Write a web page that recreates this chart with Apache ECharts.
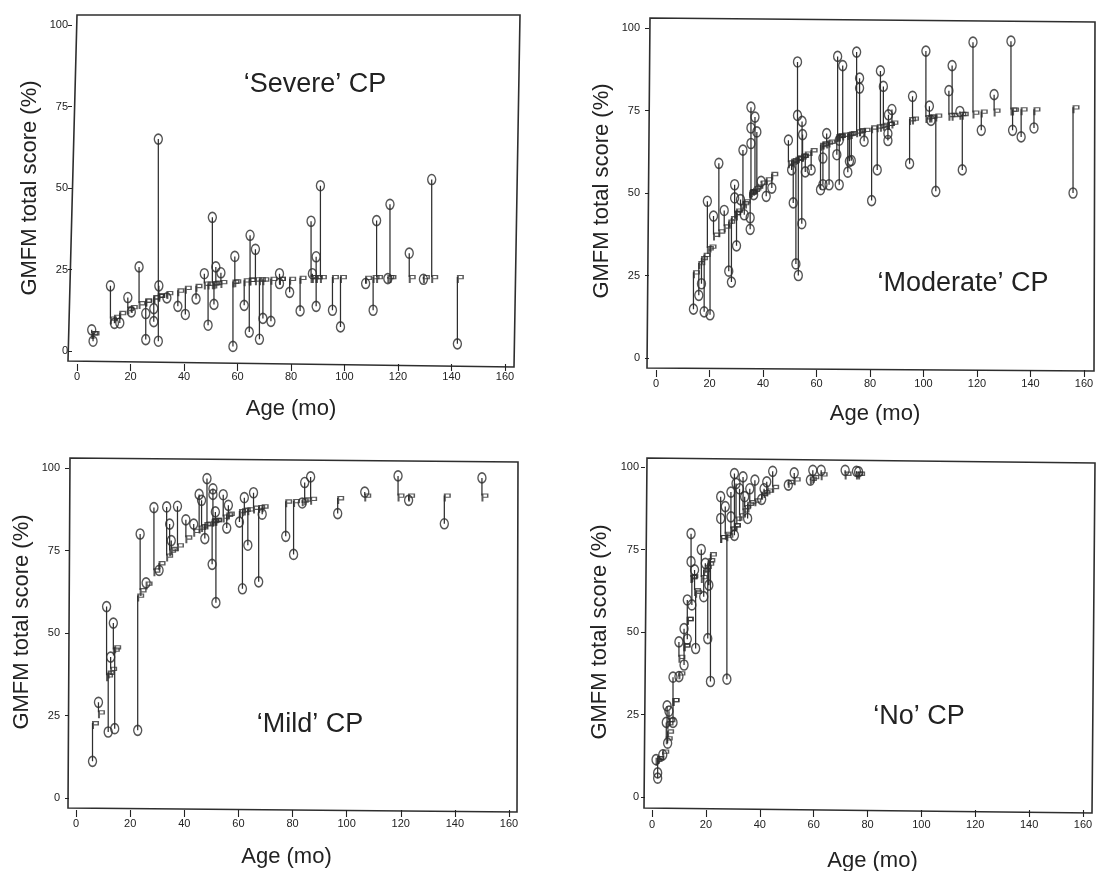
<!DOCTYPE html>
<html><head><meta charset="utf-8">
<script src="https://cdn.jsdelivr.net/npm/echarts@6/dist/echarts.min.js"></script>
<style>html,body{margin:0;padding:0;background:#fff}#c{width:1096px;height:871px;filter:blur(0.5px)}</style>
</head><body><div id="c"></div>
<script>
const xTicks = [0,20,40,60,80,100,120,140,160];
const yTicks = [0,25,50,75,100];
const xTitle = 'Age (mo)';
const yTitle = 'GMFM total score (%)';

const severeAge = [5.5,6,12.5,14,16,19,20.3,23.2,25.7,25.7,28.7,28.7,30.4,30.6,30.4,33.6,37.7,40.5,44.5,47.6,49,50.6,51.2,51.9,53.8,58.3,59,62.5,64.4,64.7,66.7,68.2,69.5,72.5,75.7,75.7,79.5,83.4,87.5,88,89.4,89.4,91,95.5,98.5,107.9,110.7,112,116.2,117,124.2,129.5,132.6,142.2];
const severePred = [5.5,5.5,10,10.5,11.7,13,13.5,14.7,15.5,15.5,16.5,16.5,17,17,17,17.8,18.6,19.4,20,20.7,20.7,20.8,20.8,21,21.2,21.3,21.4,21.7,21.9,21.9,22,22,22,22.2,22.2,22.2,22.2,22.5,22.7,22.7,22.7,22.7,22.7,22.7,22.7,22.5,22.7,22.7,22.7,22.7,22.7,22.7,22.7,22.7];
const severeObs = [6.5,3,20,8.5,8.6,16.4,12,25.8,3.5,11.5,9,13,65,20,3,16.3,13.7,11.2,16,23.7,7.9,41,14.3,25.8,24,1.4,29,14,5.8,35.5,31.2,3.6,10,9.1,23.7,20.7,18,12.3,39.8,23.7,28.9,13.7,50.7,12.5,7.4,20.7,12.5,40,22.2,45,30,22,52.6,2.2];

const moderateAge = [14,16,17,18,19.2,20.2,21.5,23.5,25.5,27.2,28.2,29.4,29.4,30.1,31.6,32.5,33,35.2,35.2,35.5,35.5,35.5,36.5,37,37.7,39.3,41.2,43.3,49.5,50.7,51.3,52.3,52.9,52.9,53.2,54.5,54.6,54.8,55.8,58,61.5,62.4,62.4,63.8,64.7,67.6,67.9,68.5,68.5,69.8,71.7,72.3,73,75,76.1,76.1,77.8,80.6,82.7,83.9,85,86.7,86.7,86.9,88.2,94.8,95.9,100.9,102.2,102.8,104.6,109.5,110.7,113.6,114.5,118.5,121.6,126.4,132.7,133.3,136.5,141.3,155.9];
const moderatePred = [26,28.8,30.3,31.3,33.3,33.8,37.4,38.4,39.9,41.4,42.4,44,44,44.7,46,47,47.5,50.2,50.2,50.5,50.5,50.5,51,51.5,52,53.2,54.2,55.8,59.3,59.8,60,60.4,60.6,60.6,60.8,61.3,61.3,61.4,62,63,64.6,65,65,65.3,65.6,67.3,67.4,67.4,67.4,67.7,67.9,68,68.2,68.7,69,69,69.2,69.9,70.2,70.4,70.7,71,71,71,71.4,72.4,72.6,73,73.2,73.2,73.5,73.7,73.7,74,74,74.4,74.7,75,75.3,75.3,75.4,75.4,76];
const moderateObs = [14.8,19,22.5,14,47.5,13.1,43,59,44.7,26.3,23,52.5,48.5,34,48,63,43.4,39,42.5,76,69.7,65,49.5,73,68.5,53.5,49,51.5,66,57,47,28.5,89.7,73.5,25,40.7,71.7,67.7,56.4,57,51,60.6,52.5,68,52.5,61.6,91.4,52.5,66,88.6,56.3,59.6,59.8,92.7,84.8,81.8,65.7,47.7,57,87,82.3,65.9,68,73.7,75.3,58.9,79.3,93,76.3,72,50.5,81,88.6,74.7,57,95.7,69,79.8,96,69,67,69.7,50];

const mildAge = [6.1,8.3,11.3,11.9,12.8,13.8,14.3,22.8,23.7,25.9,28.8,30.7,33.5,34.6,35.2,37.5,40.6,43.5,45.5,46.4,47.6,48.4,50.3,50.6,50.6,51.5,51.7,54.4,55.7,56.3,60.4,61.5,62.2,63.5,65.6,67.5,68.8,77.5,80.4,83.6,84.5,86.7,96.7,106.7,119,122.9,136.1,150];
const mildPred = [22.7,26,37.2,38,39.2,45,45.7,61.4,63,65,69,71.2,73.5,75,75.5,76.6,79,81,82,82.4,83,83.2,84,84.2,84.2,84.3,84.3,85.3,85.9,86.2,87,87.2,87.4,87.5,88,88.2,88.4,89.9,90,90.2,90.5,90.7,90.9,91.7,91.7,91.7,91.7,91.7];
const mildObs = [11.1,29,58,20,42.7,53,21,20.5,80,65.2,88,69,88.2,83,78,88.4,84.3,83,92,90.2,78.6,96.8,70.8,93.7,92,86.7,59.2,91.9,81.8,88.7,83.6,63.4,91,76.6,92.5,65.5,86,79.3,73.8,89.4,95.6,97.3,86.2,92.7,97.6,90.2,83.1,97];

const noAge = [1.5,2.1,2.1,4,5.3,5.6,5.8,6.3,7.8,7.8,10,10,11.9,11.9,13.1,13.1,14.5,14.5,14.8,15.8,16.2,18.3,19.2,19.8,20.7,21.1,21.7,25.5,25.5,27.2,27.8,29.3,29.3,30.6,30.6,31.2,32.5,33.8,34.4,35.5,36.3,38.2,40.7,41.6,42.6,44.8,50.6,52.8,58.8,59.7,62.8,71.7,75.9,76.7];
const noPred = [11.3,11.8,11.8,13.8,17.8,22.4,19.9,23.4,29.4,29.4,37.5,42.5,46,46,54,54,66.7,66.7,67,62.7,62.2,66.7,68.8,69.8,70.8,71.8,73.6,78.8,78.8,79.8,79.3,81.4,81.4,82.4,82.4,84.4,85.4,86.9,87.9,88.9,89.4,89.9,91.9,92.4,92.9,94,95.5,96.3,96.5,97,97.8,98,98,98];
const noObs = [11.3,5.7,7.3,12.8,22.6,27.6,16.3,26,22.6,36.3,36.5,47,40,51,47.8,59.7,79.8,71.3,58.2,68.8,45,75,60.7,70.8,48,64.2,35,91,84.4,88,35.7,92.4,84.9,79.3,98,95,93.4,97,91,84.4,93.4,96,90.2,93.4,95.5,98.7,94.5,98.2,96,99,99,99,98.7,98.5];

const panels = [
 {age:severeAge,pred:severePred,obs:severeObs,x0:77,x1:505,y100:25,y0:351,offX:13,offY:5,gapX:34,gapY:31,marX:7,marY:4,padX:[0,0,0,0],padY:[0,0,0,0],
  frame:[[77,15],[520,15],[514,367],[68,361]],label:'\u2018Severe\u2019 CP',lx:315,ly:85},
 {age:moderateAge,pred:moderatePred,obs:moderateObs,x0:656,x1:1084,y100:28,y0:358,offX:12,offY:7,gapX:33,gapY:36,marX:8,marY:9,padX:[0,0,0,10],padY:[0,0,0,4],
  frame:[[650,18],[1095,22],[1094,371],[647,368]],label:'\u2018Moderate\u2019 CP',lx:963,ly:284},
 {age:mildAge,pred:mildPred,obs:mildObs,x0:76,x1:509,y100:468,y0:798,offX:12,offY:7,gapX:36,gapY:36,marX:8,marY:9,padX:[0,12,0,0],padY:[0,0,0,22],
  frame:[[70,458],[518,462],[517,812],[68,808]],label:'\u2018Mild\u2019 CP',lx:310,ly:725},
 {age:noAge,pred:noPred,obs:noObs,x0:652,x1:1083,y100:467,y0:797,offX:13,offY:7,gapX:40,gapY:34,marX:9,marY:6,padX:[0,0,0,10],padY:[0,0,0,0],
  frame:[[647,458],[1095,463],[1092,813],[644,808]],label:'\u2018No\u2019 CP',lx:919,ly:717}
];

const FONT = '"Liberation Sans", Arial, sans-serif';
const INK = '#222';
const P_PATH = 'path://M0,0 H7 V6 H2 V11 H0 Z M2,1.5 V4.5 H5.5 V1.5 Z';
const grids=[],xAxes=[],yAxes=[],series=[],graphics=[];
panels.forEach((p,i)=>{
  grids.push({left:p.x0,width:p.x1-p.x0,top:p.y100,height:p.y0-p.y100,outerBoundsMode:'none'});
  xAxes.push({type:'value',gridIndex:i,min:xTicks[0],max:xTicks[xTicks.length-1],interval:20,offset:p.offX,
    name:xTitle,nameLocation:'middle',nameGap:p.gapX,nameTextStyle:{fontFamily:FONT,fontSize:22,color:INK,padding:p.padX},
    axisLine:{show:false,onZero:false},axisTick:{show:true,length:7,lineStyle:{color:INK,width:1.1}},
    axisLabel:{fontFamily:FONT,fontSize:11,color:INK,margin:p.marX,hideOverlap:false},splitLine:{show:false}});
  yAxes.push({type:'value',gridIndex:i,min:yTicks[0],max:yTicks[yTicks.length-1],interval:25,offset:p.offY,
    name:yTitle,nameLocation:'middle',nameGap:p.gapY,nameTextStyle:{fontFamily:FONT,fontSize:22,color:INK,padding:p.padY},
    axisLine:{show:false,onZero:false},axisTick:{show:true,length:4,lineStyle:{color:INK,width:1}},
    axisLabel:{fontFamily:FONT,fontSize:11,color:INK,margin:p.marY},splitLine:{show:false}});
  const stems=[];
  p.age.forEach((a,k)=>{stems.push([a,p.pred[k]],[a,p.obs[k]],['-','-']);});
  series.push({type:'line',xAxisIndex:i,yAxisIndex:i,data:stems,symbol:'none',connectNulls:false,silent:true,
    lineStyle:{color:'#2e2e2e',width:1.25},clip:false});
  series.push({type:'scatter',xAxisIndex:i,yAxisIndex:i,data:p.age.map((a,k)=>[a,p.pred[k]]),symbol:P_PATH,symbolSize:[7,8],symbolOffset:[3,2],
    itemStyle:{color:'#333',borderWidth:0},silent:true,clip:false});
  series.push({type:'scatter',xAxisIndex:i,yAxisIndex:i,data:p.age.map((a,k)=>[a,p.obs[k]]),symbol:'circle',symbolSize:[8,10],
    itemStyle:{color:'rgba(0,0,0,0)',borderColor:'#2a2a2a',borderWidth:1.5},silent:true,clip:false});
  graphics.push({type:'polygon',silent:true,shape:{points:p.frame},style:{fill:'none',stroke:'#2e2e2e',lineWidth:1.6}});
  graphics.push({type:'text',silent:true,x:p.lx,y:p.ly,style:{text:p.label,fontFamily:FONT,fontSize:27,fill:'#222',align:'center',verticalAlign:'middle'}});
});
const chart=echarts.init(document.getElementById('c'),null,{renderer:'canvas'});
chart.setOption({animation:false,backgroundColor:'#fff',grid:grids,xAxis:xAxes,yAxis:yAxes,series,graphic:graphics});
</script></body></html>
